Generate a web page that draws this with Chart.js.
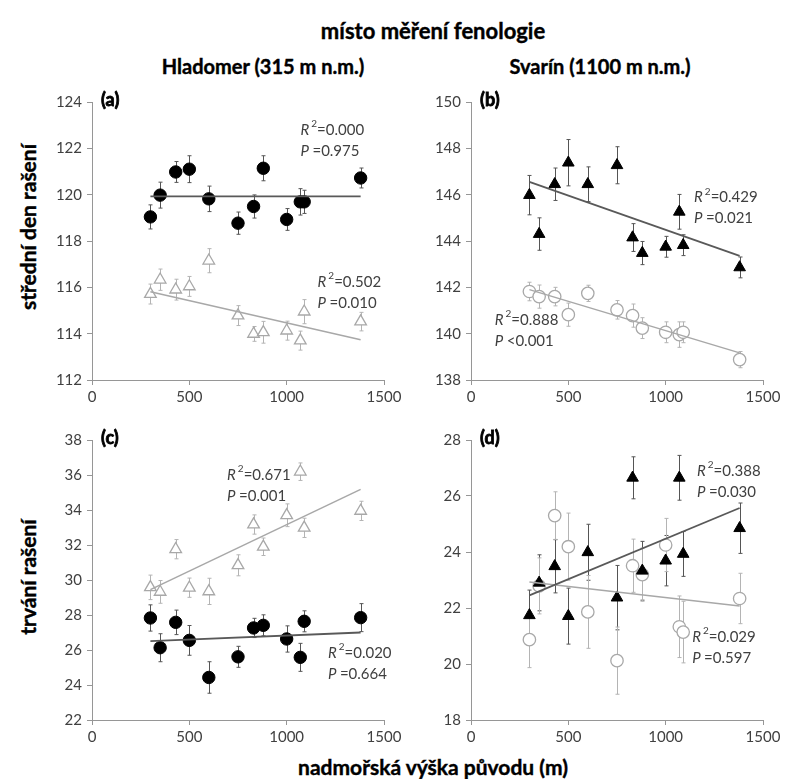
<!DOCTYPE html>
<html>
<head>
<meta charset="utf-8">
<script src="https://cdn.jsdelivr.net/npm/chart.js@4"></script>
<style>
    body { margin: 0; background: #fff; width: 789px; height: 779px; position: relative; overflow: hidden; font-family: Lato, sans-serif; }
    .t { position: absolute; font-weight: bold; color: #000; white-space: nowrap; transform: translate(-50%, -50%); -webkit-text-stroke: 0.4px #000; }
    .rot { transform: translate(-50%, -50%) rotate(-90deg); }
    .box { position: absolute; }
</style>
</head>
<body>
<div class="t" style="left:433px; top:30px; font-size:22px;">místo měření fenologie</div>
<div class="t" style="left:263px; top:66px; font-size:20px;">Hladomer (315 m n.m.)</div>
<div class="t" style="left:600px; top:66px; font-size:20px;">Svarín (1100 m n.m.)</div>
<div class="t rot" style="left:27px; top:227px; font-size:21px;">střední den rašení</div>
<div class="t rot" style="left:27px; top:577px; font-size:21px;">trvání rašení</div>
<div class="t" style="left:433px; top:766px; font-size:21px;">nadmořská výška původu (m)</div>

<div class="box" style="left:40px; top:88px;"><canvas id="chartA" width="370" height="322"></canvas></div>
<div class="box" style="left:419px; top:88px;"><canvas id="chartB" width="370" height="322"></canvas></div>
<div class="box" style="left:40px; top:426px;"><canvas id="chartC" width="370" height="324"></canvas></div>
<div class="box" style="left:419px; top:426px;"><canvas id="chartD" width="370" height="324"></canvas></div>

<script>
// altitude of origin (m) - same populations in every panel
const altitude = [300, 350, 430, 500, 600, 750, 830, 880, 1000, 1070, 1090, 1380];
const fitX = [300, 1380];

// (a) Hladomer, mean bud burst day
const aBlack = [119.04, 119.98, 120.98, 121.1, 119.82, 118.77, 119.49, 121.14, 118.93, 119.69, 119.69, 120.72];
const aBlackErr = [0.52, 0.56, 0.45, 0.58, 0.55, 0.48, 0.5, 0.54, 0.47, 0.57, 0.5, 0.43];
const aGray = [115.71, 116.33, 115.9, 116.04, 117.15, 114.78, 113.99, 114.06, 114.13, 113.7, 114.95, 114.52];
const aGrayErr = [0.43, 0.46, 0.45, 0.43, 0.52, 0.43, 0.32, 0.47, 0.41, 0.41, 0.52, 0.4];
const aBlackFit = [119.93, 119.93];
const aGrayFit = [115.81, 113.74];
const aStats = [['0.000', '0.975'], ['0.502', '0.010']];

// (b) Svarín, mean bud burst day
const bBlack = [145.98, 144.3, 146.45, 147.38, 146.45, 147.27, 144.15, 143.48, 143.75, 145.26, 143.82, 142.86];
const bBlackErr = [0.85, 0.7, 0.7, 1.0, 0.75, 0.8, 0.6, 0.5, 0.45, 0.75, 0.45, 0.45];
const bGray = [141.82, 141.6, 141.6, 140.82, 141.74, 141.03, 140.78, 140.24, 140.06, 139.96, 140.06, 138.88];
const bGrayErr = [0.4, 0.5, 0.4, 0.5, 0.35, 0.4, 0.5, 0.45, 0.45, 0.55, 0.45, 0.35];
const bBlackFit = [146.55, 143.36];
const bGrayFit = [141.9, 139.17];
const bStats = [['0.429', '0.021'], ['0.888', '<0.001']];

// (c) Hladomer, bud burst duration
const cBlack = [27.83, 26.13, 27.58, 26.55, 24.43, 25.61, 27.26, 27.41, 26.63, 25.58, 27.64, 27.85];
const cBlackErr = [0.75, 0.8, 0.7, 0.85, 0.9, 0.6, 0.55, 0.6, 0.75, 0.8, 0.6, 0.8];
const cGray = [29.58, 29.32, 31.76, 29.56, 29.35, 30.84, 33.17, 31.9, 33.7, 36.19, 32.98, 33.95];
const cGrayErr = [0.7, 0.65, 0.55, 0.55, 0.75, 0.6, 0.55, 0.5, 0.65, 0.5, 0.55, 0.55];
const cBlackFit = [26.51, 27.0];
const cGrayFit = [29.45, 35.18];
const cStats = [['0.020', '0.664'], ['0.671', '0.001']];

// (d) Svarín, bud burst duration
const dBlack = [21.74, 22.9, 23.49, 21.71, 23.99, 22.37, 26.65, 23.33, 23.69, 26.65, 23.93, 24.85];
const dBlackErr = [0.9, 1.0, 0.95, 1.0, 1.0, 1.15, 0.75, 1.05, 0.9, 0.8, 0.8, 0.9];
const dGray = [20.87, 22.79, 25.3, 24.19, 21.86, 20.12, 23.51, 23.19, 24.25, 21.33, 21.14, 22.34];
const dGrayErr = [1.0, 1.0, 0.85, 1.2, 1.3, 1.2, 0.95, 0.95, 0.95, 1.1, 1.1, 0.9];
const dBlackFit = [22.45, 25.57];
const dGrayFit = [22.93, 22.07];
const dStats = [['0.388', '0.030'], ['0.029', '0.597']];

const TICK_COLOR = '#404040';
const AXIS_COLOR = '#969696';
const DARK = '#000';
const LIGHT = '#a8a8a8';

// vertical error bars with small caps, drawn under the markers
const errPlugin = {
    id: 'errBars',
    beforeDatasetsDraw(chart) {
        const { ctx, scales: { x, y } } = chart;
        chart.data.datasets.forEach(ds => {
            if (!ds.err) return;
            ctx.save();
            ctx.strokeStyle = ds.errColor;
            ctx.lineWidth = 1;
            ds.data.forEach((p, j) => {
                const px = Math.round(x.getPixelForValue(p.x)) + 0.5;
                const y1 = y.getPixelForValue(p.y - ds.err[j]);
                const y2 = y.getPixelForValue(p.y + ds.err[j]);
                ctx.beginPath();
                ctx.moveTo(px, y1); ctx.lineTo(px, y2);
                ctx.moveTo(px - 2, y1); ctx.lineTo(px + 2, y1);
                ctx.moveTo(px - 2, y2); ctx.lineTo(px + 2, y2);
                ctx.stroke();
            });
            ctx.restore();
        });
    }
};

// panel letter and R2 / P notes
const notePlugin = {
    id: 'notes',
    afterDraw(chart, args, opts) {
        const { ctx, chartArea, scales: { x, y } } = chart;
        ctx.save();
        ctx.textBaseline = 'middle';
        ctx.fillStyle = '#000';
        ctx.strokeStyle = '#000';
        ctx.lineWidth = 0.8;
        ctx.font = 'bold 18px Lato';
        ctx.fillText(opts.tag, chartArea.left + 9, chartArea.top - 2);
        ctx.strokeText(opts.tag, chartArea.left + 9, chartArea.top - 2);
        opts.notes.forEach(n => {
            const px = x.getPixelForValue(n.x);
            const py = y.getPixelForValue(n.y);
            ctx.fillStyle = TICK_COLOR;
            ctx.font = 'italic 15px Lato';
            ctx.fillText('R', px, py);
            const wr = ctx.measureText('R').width + 2;
            ctx.font = '10px Lato';
            ctx.fillText('2', px + wr, py - 6);
            const w2 = ctx.measureText('2').width;
            ctx.font = '15px Lato';
            ctx.fillText('=' + n.stat[0], px + wr + w2, py);
            ctx.font = 'italic 15px Lato';
            ctx.fillText('P', px, py + 21);
            const wp = ctx.measureText('P ').width;
            ctx.font = '15px Lato';
            const p = n.stat[1];
            ctx.fillText((p[0] === '<' ? '' : '=') + p, px + wp, py + 21);
        });
        ctx.restore();
    }
};

function pts(ys) {
    return ys.map((v, i) => ({ x: altitude[i], y: v }));
}

function fit(ys) {
    return ys.map((v, i) => ({ x: fitX[i], y: v }));
}

function makePanel(id, yMin, yMax, step, black, blackErr, blackStyle, gray, grayErr, grayStyle, blackFit, grayFit, tag, notes) {
    const ctx = document.getElementById(id);
    new Chart(ctx, {
        type: 'scatter',
        data: {
            datasets: [
                {
                    type: 'line', data: fit(blackFit), borderColor: '#595959', borderWidth: 1.8,
                    pointRadius: 0, fill: false, order: 0
                },
                {
                    type: 'line', data: fit(grayFit), borderColor: LIGHT, borderWidth: 1.5,
                    pointRadius: 0, fill: false, order: 0
                },
                {
                    data: pts(black), err: blackErr, errColor: '#555',
                    pointStyle: blackStyle, pointRadius: blackStyle === 'circle' ? 6.2 : 6.7,
                    backgroundColor: DARK, borderColor: DARK, borderWidth: 1, order: 1
                },
                {
                    data: pts(gray), err: grayErr, errColor: '#b4b4b4',
                    pointStyle: grayStyle, pointRadius: grayStyle === 'circle' ? 6.2 : 6.7,
                    backgroundColor: '#fff', borderColor: LIGHT, borderWidth: 1.3, order: 1
                }
            ]
        },
        options: {
            responsive: false,
            animation: false,
            events: [],
            layout: { padding: { top: 12, right: 26, left: 0, bottom: 0 } },
            plugins: {
                legend: { display: false },
                tooltip: { enabled: false },
                notes: { tag: tag, notes: notes }
            },
            scales: {
                x: {
                    type: 'linear',
                    min: 0, max: 1500,
                    afterFit(scale) { scale.height = 30; },
                    ticks: {
                        stepSize: 500, color: TICK_COLOR, font: { family: 'Lato', size: 15 }, padding: 3,
                        callback: v => String(v)
                    },
                    grid: { drawOnChartArea: false, color: AXIS_COLOR, tickLength: 5 },
                    border: { color: AXIS_COLOR, width: 1 }
                },
                y: {
                    min: yMin, max: yMax,
                    afterFit(scale) { scale.width = 52; },
                    ticks: {
                        stepSize: step, color: TICK_COLOR, font: { family: 'Lato', size: 15 }, padding: 5,
                        callback: v => String(v)
                    },
                    grid: { drawOnChartArea: false, color: AXIS_COLOR, tickLength: 5 },
                    border: { color: AXIS_COLOR, width: 1 }
                }
            }
        },
        plugins: [errPlugin, notePlugin]
    });
}

function drawAll() {
    makePanel('chartA', 112, 124, 2, aBlack, aBlackErr, 'circle', aGray, aGrayErr, 'triangle', aBlackFit, aGrayFit, '(a)',
        [{ x: 1071, y: 122.78, stat: aStats[0] }, { x: 1159, y: 116.24, stat: aStats[1] }]);
    makePanel('chartB', 138, 150, 2, bBlack, bBlackErr, 'triangle', bGray, bGrayErr, 'circle', bBlackFit, bGrayFit, '(b)',
        [{ x: 1146, y: 145.88, stat: bStats[0] }, { x: 122, y: 140.59, stat: bStats[1] }]);
    makePanel('chartC', 22, 38, 2, cBlack, cBlackErr, 'circle', cGray, cGrayErr, 'triangle', cBlackFit, cGrayFit, '(c)',
        [{ x: 1212, y: 25.82, stat: cStats[0] }, { x: 694, y: 36.0, stat: cStats[1] }]);
    makePanel('chartD', 18, 28, 2, dBlack, dBlackErr, 'triangle', dGray, dGrayErr, 'circle', dBlackFit, dGrayFit, '(d)',
        [{ x: 1161, y: 26.89, stat: dStats[0] }, { x: 1136, y: 20.96, stat: dStats[1] }]);
}

// make sure the canvas fonts are ready before drawing
Promise.all([
    document.fonts.load('bold 18px Lato'),
    document.fonts.load('italic 15px Lato'),
    document.fonts.load('15px Lato')
]).then(drawAll, drawAll);
</script>
</body>
</html>
